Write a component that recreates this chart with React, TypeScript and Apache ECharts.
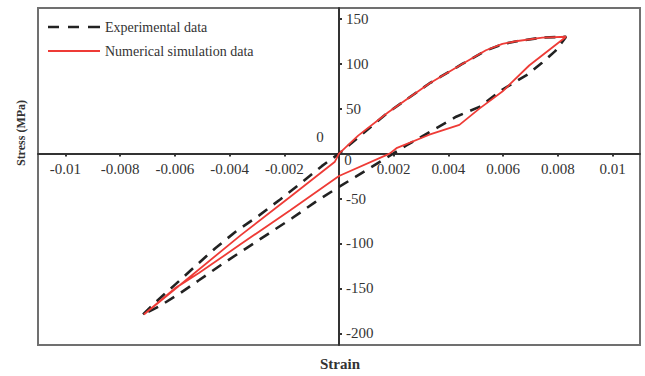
import React, { useEffect, useRef } from "react";
import * as echarts from "echarts";

const xTicks = [-0.01, -0.008, -0.006, -0.004, -0.002, 0.002, 0.004, 0.006, 0.008, 0.01];
const yTicks = [-200, -150, -100, -50, 50, 100, 150];

const expStrain = [
  -0.00716, -0.00669, -0.00596, -0.00524, -0.00451, -0.00378, -0.00293, -0.00215, -0.00136, -0.00063,
  0, 0.0018, 0.0033, 0.00452, 0.0054, 0.006, 0.0065, 0.0074, 0.0083,
  0.0079, 0.00742, 0.00684, 0.00596, 0.00513, 0.00428, 0.00342, 0.00246, 0.00161, 0.0006, 0,
  -0.00087, -0.00172, -0.00257, -0.00342, -0.00427, -0.00512, -0.00584, -0.00657, -0.00716,
];
const expStress = [
  -179, -165, -145, -125, -105, -87, -69, -51, -32, -14,
  0, 46, 78, 100, 115, 122, 125, 129, 130,
  114, 101, 87, 71, 52, 41, 26, 9, -7, -26, -37,
  -54, -72, -89, -106, -123, -141, -156, -170, -179,
];

const simStrain = [
  -0.00713, -0.0062, -0.0036, -0.00178, -0.00015,
  0, 0.0007, 0.0018, 0.0033, 0.00452, 0.00537, 0.00597, 0.00646, 0.00743, 0.0083,
  0.00695, 0.00597, 0.00513, 0.0044, 0.0033, 0.0021, 0.00185, 0,
  -0.00178, -0.0036, -0.00512, -0.006, -0.00713,
];
const simStress = [
  -179, -156, -91, -48, -9,
  0, 20, 46, 78, 100, 115, 122, 125, 129, 130,
  98, 69, 50, 32, 21, 6, 0, -25,
  -63, -101, -133, -150, -179,
];

const X_MIN = -0.011;
const X_MAX = 0.011;
const Y_MIN = -213;
const Y_MAX = 162;

const zip = (xs: number[], ys: number[]) => xs.map((x, i) => [x, ys[i]]);

const FONT = "Liberation Serif";
const W = 645;
const H = 376;
const G = { left: 38, right: 5, top: 8, bottom: 31 };

export default function App() {
  const ref = useRef<HTMLDivElement>(null);
  useEffect(() => {
    document.body.style.margin = "0";
    if (!ref.current) return;
    const chart = echarts.init(ref.current, undefined, { renderer: "svg" });
    const gw = W - G.left - G.right;
    const gh = H - G.top - G.bottom;
    const xOffset = -((0 - Y_MIN) / (Y_MAX - Y_MIN)) * gh;
    const yOffset = -((0 - X_MIN) / (X_MAX - X_MIN)) * gw;
    chart.setOption({
      animation: false,
      backgroundColor: "#fff",
      grid: {
        ...G,
        show: true,
        borderColor: "#707070",
        borderWidth: 2,
      },
      legend: {
        left: 43,
        top: 15,
        orient: "vertical",
        itemWidth: 52,
        itemHeight: 14,
        itemGap: 10,
        symbolKeepAspect: true,
        textStyle: { fontFamily: FONT, fontSize: 14, color: "#333" },
        data: [
          { name: "Experimental data", icon: "path://M0,0h11v2.6H0zM20,0h11v2.6H20zM40,0h12v2.6H40z" },
          { name: "Numerical simulation data", icon: "path://M0,0h52v1.8H0z" },
        ],
      },
      xAxis: {
        type: "value",
        min: X_MIN,
        max: X_MAX,
        position: "bottom",
        offset: xOffset,
        axisLine: { onZero: false, lineStyle: { color: "#333", width: 2 } },
        axisTick: { show: true, length: 3, customValues: xTicks, lineStyle: { color: "#333", width: 2 } },
        axisLabel: {
          customValues: xTicks,
          margin: 8,
          fontFamily: FONT,
          fontSize: 15,
          color: "#333",
          formatter: (v: number) => String(v),
        },
        splitLine: { show: false },
      },
      yAxis: {
        type: "value",
        min: Y_MIN,
        max: Y_MAX,
        position: "left",
        offset: yOffset,
        axisLine: { onZero: false, lineStyle: { color: "#333", width: 2 } },
        axisTick: { show: true, inside: true, length: 3, customValues: yTicks, lineStyle: { color: "#333", width: 2 } },
        axisLabel: {
          inside: true,
          customValues: yTicks,
          margin: 7,
          fontFamily: FONT,
          fontSize: 15,
          color: "#333",
        },
        splitLine: { show: false },
      },
      graphic: [
        {
          type: "text",
          x: 320,
          y: 137,
          style: { text: "0", font: `15px ${FONT}`, fill: "#333", align: "center", verticalAlign: "middle" },
        },
        {
          type: "text",
          x: 348,
          y: 160,
          style: { text: "0", font: `15px ${FONT}`, fill: "#333", align: "center", verticalAlign: "middle" },
        },
        {
          type: "text",
          x: 21,
          y: 133,
          rotation: Math.PI / 2,
          style: {
            text: "Stress (MPa)",
            font: `bold 12px ${FONT}`,
            fill: "#333",
            align: "center",
            verticalAlign: "middle",
          },
        },
        {
          type: "text",
          x: 340,
          y: 364,
          style: { text: "Strain", font: `bold 15px ${FONT}`, fill: "#333", align: "center", verticalAlign: "middle" },
        },
      ],
      series: [
        {
          name: "Experimental data",
          type: "line",
          data: zip(expStrain, expStress),
          symbol: "none",
          lineStyle: { color: "#222", width: 2.6, type: [11, 8] },
          itemStyle: { color: "#222" },
          z: 2,
        },
        {
          name: "Numerical simulation data",
          type: "line",
          data: zip(simStrain, simStress),
          symbol: "none",
          lineStyle: { color: "#ee3b36", width: 1.8 },
          itemStyle: { color: "#ee3b36" },
          z: 3,
        },
      ],
    });
    return () => chart.dispose();
  }, []);
  return <div ref={ref} style={{ width: W, height: H }} />;
}
